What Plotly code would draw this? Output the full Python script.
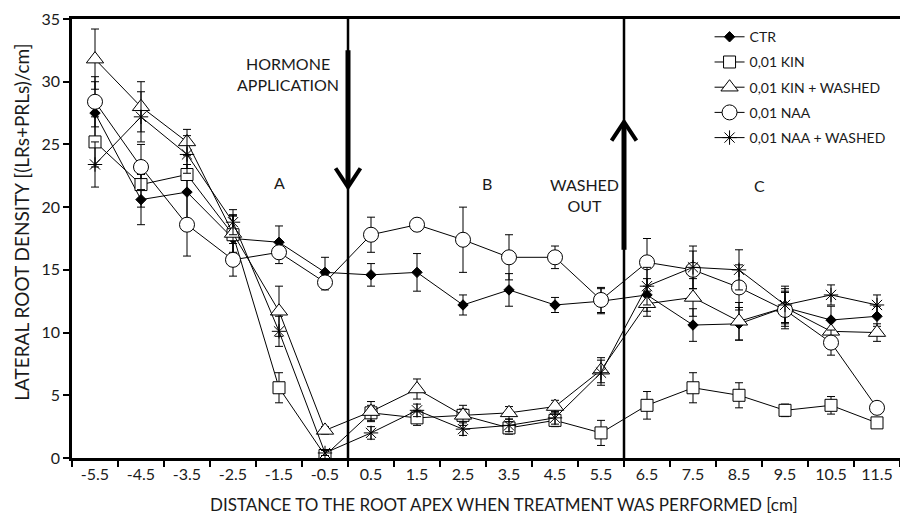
import plotly.graph_objects as go

positions = [-5.5, -4.5, -3.5, -2.5, -1.5, -0.5, 0.5, 1.5, 2.5, 3.5, 4.5, 5.5, 6.5, 7.5, 8.5, 9.5, 10.5, 11.5]
tick_labels = ["-5.5", "-4.5", "-3.5", "-2.5", "-1.5", "-0.5", "0.5", "1.5", "2.5", "3.5", "4.5", "5.5",
               "6.5", "7.5", "8.5", "9.5", "10.5", "11.5"]
boundaries = [-6, -5, -4, -3, -2, -1, 0, 1, 2, 3, 4, 5, 6, 7, 8, 9, 10, 11, 12]

ctr = [27.5, 20.6, 21.2, 17.5, 17.2, 14.8, 14.6, 14.8, 12.2, 13.4, 12.2, 12.5, 13.0, 10.6, 10.7, 12.0, 11.0, 11.3]
ctr_err = [2.5, 2.0, 2.2, 1.8, 1.3, 1.2, 0.9, 1.5, 0.8, 1.3, 0.6, 1.0, 1.3, 1.3, 1.3, 1.2, 1.1, 0.8]

kin = [25.2, 21.8, 22.6, 17.8, 5.6, 0.2, 3.6, 3.2, 3.4, 2.4, 3.0, 2.0, 4.2, 5.6, 5.0, 3.8, 4.2, 2.8]
kin_err = [2.0, 1.8, 1.5, 1.5, 1.2, 0.3, 0.6, 0.6, 0.5, 0.5, 0.5, 1.0, 1.1, 1.2, 1.0, 0.5, 0.7, 0.3]

kin_w = [31.8, 28.0, 25.2, 17.9, 11.7, 2.2, 3.7, 5.5, 3.4, 3.6, 4.1, 7.0, 12.3, 12.8, 10.9, 12.0, 10.1, 10.0]
kin_w_err = [2.4, 2.0, 1.0, 1.5, 2.0, 0.3, 0.8, 0.8, 0.8, 0.5, 0.5, 1.0, 1.0, 1.5, 1.5, 1.5, 1.0, 0.7]

naa = [28.4, 23.2, 18.6, 15.8, 16.4, 14.0, 17.8, 18.6, 17.4, 16.0, 16.0, 12.6, 15.6, 15.0, 13.6, 11.8, 9.2, 4.0]
naa_err = [2.0, 1.8, 2.5, 1.3, 0.9, 0.6, 1.4, 0.5, 2.6, 1.8, 0.9, 1.0, 1.9, 1.5, 1.8, 1.5, 1.0, 0.3]

naa_w = [23.4, 27.2, 24.2, 18.8, 10.1, 0.4, 2.0, 3.8, 2.3, 2.6, 3.2, 6.8, 13.7, 15.2, 15.0, 12.2, 13.0, 12.2]
naa_w_err = [1.8, 2.0, 1.5, 1.0, 1.2, 0.2, 0.5, 0.5, 0.5, 0.5, 0.5, 1.0, 1.5, 1.7, 1.6, 1.5, 0.8, 0.8]

series_names = ["CTR", "0,01 KIN", "0,01 KIN + WASHED", "0,01 NAA", "0,01 NAA + WASHED"]

x_title = "DISTANCE TO THE ROOT APEX WHEN TREATMENT WAS PERFORMED [cm]"
y_title = "LATERAL ROOT DENSITY [(LRs+PRLs)/cm]"

FONT = "Lato"
TXT = "#1a1a1a"

fig = go.Figure()

styles = [
    (ctr, ctr_err, dict(symbol="diamond", size=8, color="black", line=dict(color="black", width=1))),
    (kin, kin_err, dict(symbol="square", size=12, color="white", line=dict(color="black", width=1))),
    (kin_w, kin_w_err, dict(symbol="triangle-up", size=15, color="white", line=dict(color="black", width=1))),
    (naa, naa_err, dict(symbol="circle", size=15, color="white", line=dict(color="black", width=1))),
    (naa_w, naa_w_err, dict(symbol="asterisk-open", size=12, color="black", line=dict(color="black", width=1))),
]

for i, (vals, errs, mk) in enumerate(styles):
    fig.add_trace(go.Scatter(
        x=positions, y=vals, name=series_names[i], mode="lines+markers",
        line=dict(color="black", width=1), marker=mk,
        error_y=dict(type="data", array=errs, visible=True, color="black", thickness=1, width=4),
        legendgroup=f"g{i}",
    ))

# vertical lines at treatment times
for xv in [0, 6]:
    fig.add_shape(type="line", x0=xv, x1=xv, y0=0, y1=35, xref="x", yref="y",
                  line=dict(color="black", width=2.5))

# arrow 1 (down) at x=0
fig.add_shape(type="line", x0=0, x1=0, y0=32.5, y1=22.0, line=dict(color="black", width=5))
fig.add_shape(type="path", path="M -0.27,23.1 L 0,21.6 L 0.27,23.1", line=dict(color="black", width=4))
# arrow 2 (up) at x=6
fig.add_shape(type="line", x0=6, x1=6, y0=16.6, y1=26.4, line=dict(color="black", width=5))
fig.add_shape(type="path", path="M 5.73,25.3 L 6,26.8 L 6.27,25.3", line=dict(color="black", width=4))

annots = [
    dict(x=-1.3, y=30.6, text="HORMONE<br>APPLICATION"),
    dict(x=-1.5, y=22.0, text="A"),
    dict(x=3.03, y=21.85, text="B"),
    dict(x=5.15, y=21.0, text="WASHED<br>OUT"),
    dict(x=8.95, y=21.7, text="C"),
]
for a in annots:
    fig.add_annotation(x=a["x"], y=a["y"], xref="x", yref="y", text=a["text"], showarrow=False,
                       font=dict(family=FONT, size=16, color=TXT), align="center")

# axis titles as annotations (fixed positions)
fig.add_annotation(x=0.522, y=-0.107, xref="paper", yref="paper", text=x_title, showarrow=False,
                   xanchor="center", yanchor="middle", font=dict(family=FONT, size=17, color=TXT))
fig.add_annotation(x=-0.0604, y=0.538, xref="paper", yref="paper", text=y_title, showarrow=False,
                   textangle=-90, xanchor="center", yanchor="middle", font=dict(family=FONT, size=19, color=TXT))

fig.update_layout(
    width=900, height=517,
    margin=dict(l=72, r=0, t=19, b=59, autoexpand=False),
    plot_bgcolor="white", paper_bgcolor="white",
    showlegend=True,
    legend=dict(x=0.770, y=0.995, xanchor="left", yanchor="top", bgcolor="rgba(0,0,0,0)",
                font=dict(family=FONT, size=14, color=TXT), tracegroupgap=4,
                itemwidth=30),
    font=dict(family=FONT, color=TXT),
)

fig.update_xaxes(
    range=[-6, 12], tickmode="array", tickvals=positions, ticktext=tick_labels, ticks="",
    tickfont=dict(family=FONT, size=16, color=TXT), automargin=False,
    minor=dict(tickmode="array", tickvals=boundaries, ticks="outside", ticklen=6, tickwidth=2, tickcolor="black"),
    showline=True, linecolor="black", linewidth=2.5, mirror=True, showgrid=False, zeroline=False,
)
fig.update_yaxes(
    range=[0, 35], tickmode="linear", tick0=0, dtick=5, ticks="outside", ticklen=6, tickwidth=2,
    tickcolor="black", tickfont=dict(family=FONT, size=16, color=TXT), automargin=False,
    showline=True, linecolor="black", linewidth=2.5, showgrid=False, zeroline=False,
)

fig.write_html("out.html", config={"displayModeBar": False},
               post_script="document.body.style.margin='0';document.body.style.overflow='hidden';")
